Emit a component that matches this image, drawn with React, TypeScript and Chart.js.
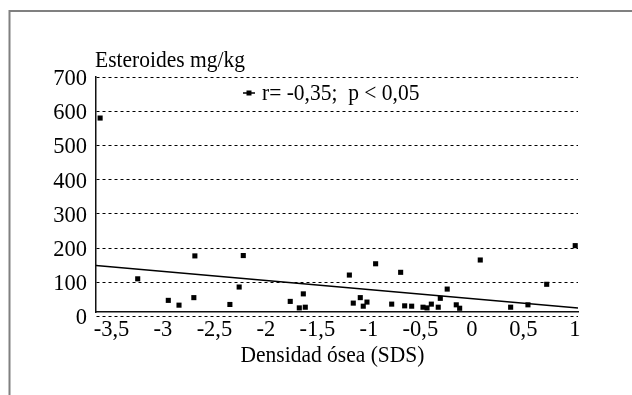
import React, { useEffect, useRef } from 'react';
import { Chart, registerables } from 'chart.js';

Chart.register(...registerables);

// Data
const densidad = [
  -3.61, -3.245, -2.948, -2.844, -2.7, -2.69, -2.35, -2.26, -2.22,
  -1.764, -1.676, -1.618, -1.637, -1.19, -1.152, -1.084, -1.055, -1.019, -0.935, -0.779, -0.692, -0.653, -0.585,
  -0.475, -0.436, -0.394, -0.327, -0.307, -0.24, -0.152, -0.119, 0.081, 0.376, 0.544, 0.726, 1.003,
];
const esteroides = [
  580, 110, 47, 33, 55, 177, 35, 86, 178,
  44, 25, 27, 66, 121, 39, 55, 30, 42, 154, 36, 129, 31, 30,
  27, 25, 36, 27, 53, 80, 34, 24, 165, 27, 34, 94, 207,
];
const regresionX = [-3.65, 1.03];
const regresionY = [149, 25];
const xTicks = [-3.5, -3, -2.5, -2, -1.5, -1, -0.5, 0, 0.5, 1];
const yTicks = [0, 100, 200, 300, 400, 500, 600, 700];
const yTitle = 'Esteroides mg/kg';
const xTitle = 'Densidad ósea (SDS)';
const legendLabel = 'r= -0,35;  p < 0,05';

const FONT = "'Liberation Serif', 'Times New Roman', serif";

const fmt = (v: number) => String(v).replace('.', ',');

export default function App() {
  const ref = useRef<HTMLCanvasElement | null>(null);

  useEffect(() => {
    if (!ref.current) return;

    const decor = {
      id: 'decor',
      beforeDraw(chart: any) {
        const ctx = chart.ctx;
        ctx.save();
        ctx.fillStyle = '#ffffff';
        ctx.fillRect(0, 0, chart.width, chart.height);
        ctx.strokeStyle = '#808080';
        ctx.lineWidth = 2;
        ctx.strokeRect(9.5, 11, 1000, 1000);
        ctx.restore();
      },
      afterDraw(chart: any) {
        const ctx = chart.ctx;
        const drawText = (t: string, x: number, y: number, align: CanvasTextAlign) => {
          ctx.save();
          ctx.translate(x, y);
          ctx.scale(1, 1.12);
          ctx.font = `21.5px ${FONT}`;
          ctx.fillStyle = '#000';
          ctx.textAlign = align;
          ctx.textBaseline = 'alphabetic';
          ctx.fillText(t, 0, 0);
          ctx.restore();
        };
        drawText(yTitle, 95, 66.5, 'left');
        drawText(xTitle, 332.5, 362, 'center');
        // legend
        ctx.save();
        ctx.strokeStyle = '#000';
        ctx.lineWidth = 1.5;
        ctx.beginPath();
        ctx.moveTo(243, 93);
        ctx.lineTo(255, 93);
        ctx.stroke();
        ctx.fillStyle = '#000';
        ctx.fillRect(246.5, 90.5, 5, 5);
        ctx.restore();
        drawText(legendLabel, 262, 100, 'left');
      },
    };

    const chart = new Chart(ref.current, {
      type: 'scatter',
      data: {
        datasets: [
          {
            label: 'puntos',
            data: densidad.map((x, i) => ({ x, y: esteroides[i] })),
            pointStyle: 'rect',
            pointRadius: 3.6,
            backgroundColor: '#000',
            borderColor: '#000',
            borderWidth: 0,
            showLine: false,
          },
          {
            label: 'regresión',
            data: regresionX.map((x, i) => ({ x, y: regresionY[i] })),
            showLine: true,
            pointRadius: 0,
            borderColor: '#000',
            borderWidth: 1.5,
            backgroundColor: '#000',
          },
        ],
      },
      options: {
        responsive: false,
        animation: false,
        devicePixelRatio: 1,
        layout: { padding: { left: 0, top: 77, right: 54, bottom: 0 } },
        plugins: { legend: { display: false }, tooltip: { enabled: false }, title: { display: false } },
        scales: {
          x: {
            type: 'linear',
            min: -3.65,
            max: 1.03,
            afterFit: (s: any) => { s.height = 83; },
            afterBuildTicks: (s: any) => { s.ticks = xTicks.map((v) => ({ value: v })); },
            grid: { display: false, drawTicks: false },
            border: { display: true, color: '#111', width: 1.5 },
            ticks: {
              color: '#000',
              padding: 5,
              maxRotation: 0,
              autoSkip: false,
              font: { family: FONT, size: 22.5 },
              callback: (v: any) => fmt(Number(v)),
            },
          },
          y: {
            type: 'linear',
            min: 13,
            max: 700,
            afterFit: (s: any) => { s.width = 96; },
            afterBuildTicks: (s: any) => { s.ticks = yTicks.map((v) => ({ value: v })); },
            grid: { display: true, color: '#000', lineWidth: 1, drawTicks: false },
            border: { display: true, color: '#111', width: 1.5, dash: [3, 3] },
            ticks: {
              color: '#000',
              padding: 9,
              labelOffset: 2,
              autoSkip: false,
              font: { family: FONT, size: 22.5 },
              callback: (v: any) => fmt(Number(v)),
            },
          },
        },
      },
      plugins: [decor],
    } as any);

    return () => chart.destroy();
  }, []);

  return (
    <div style={{ position: 'fixed', left: 0, top: 0, width: 632, height: 395, background: '#fff' }}>
      <canvas ref={ref} width={632} height={395} style={{ display: 'block', width: 632, height: 395 }} />
    </div>
  );
}
